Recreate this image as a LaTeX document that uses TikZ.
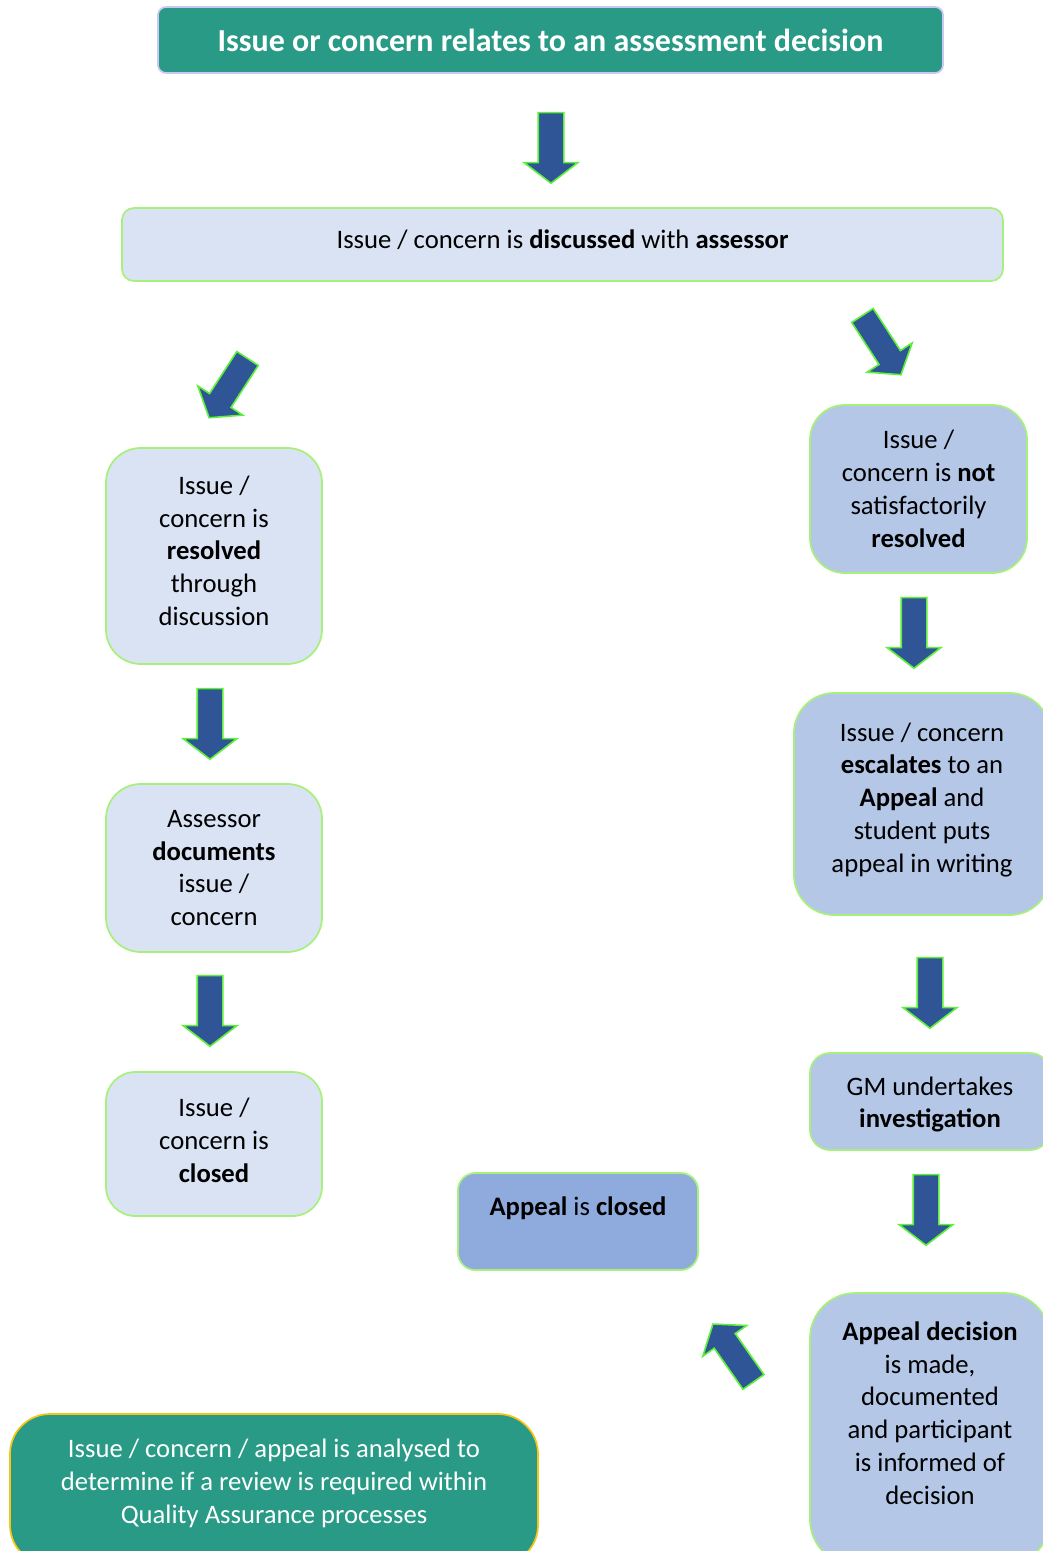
\documentclass[tikz,border=0pt]{standalone}
\usepackage{fontspec}
\setmainfont{Carlito}
\usetikzlibrary{shapes.arrows}

\definecolor{qateal}{HTML}{289A85}
\definecolor{paleblue}{HTML}{DAE3F3}
\definecolor{midblue}{HTML}{B4C7E7}
\definecolor{deepblue}{HTML}{8FAADC}
\definecolor{arrfill}{HTML}{2F5597}
\definecolor{arrline}{HTML}{5CF03A}
\definecolor{boxline}{HTML}{A8F07C}
\definecolor{headline}{HTML}{C8C8F2}
\definecolor{goldline}{HTML}{F5C518}

\begin{document}
\begin{tikzpicture}[x=0.75pt, y=-0.75pt,
    box/.style={draw=boxline, line width=1.3pt, fill=paleblue, align=center,
        font=\fontsize{20}{24.6}\selectfont, inner sep=0pt},
    tealbox/.style={box, fill=qateal, text=white},
    blkarrow/.style={single arrow, draw=arrline, fill=arrfill, line width=1.2pt,
        minimum height=53pt, inner xsep=0pt, inner ysep=9pt,
        single arrow head extend=10.5pt, single arrow tip angle=105}]

    \useasboundingbox (0,0) rectangle (1042,1551);

    % Top
    \node[tealbox, draw=headline, rounded corners=6pt, minimum width=785*0.75pt,
        minimum height=66*0.75pt, font=\fontsize{24}{28}\selectfont\bfseries]
        (start) at (550.5,40) {Issue or concern relates to an assessment decision};
    \node[box, rounded corners=9pt, minimum width=881*0.75pt, minimum height=73*0.75pt,
        text depth=8pt]
        (discuss) at (562.5,244.5) {Issue / concern is \textbf{discussed} with \textbf{assessor}};

    % Left column
    \node[box, rounded corners=26pt, minimum width=216*0.75pt, minimum height=216*0.75pt,
        text depth=8pt]
        (resolved) at (214,556) {Issue /\\concern is\\\textbf{resolved}\\through\\discussion};
    \node[box, rounded corners=26pt, minimum width=216*0.75pt, minimum height=168*0.75pt]
        (documents) at (214,868) {Assessor\\\textbf{documents}\\issue /\\concern};
    \node[box, rounded corners=22pt, minimum width=216*0.75pt, minimum height=144*0.75pt,
        text depth=6pt]
        (closed) at (214,1144) {Issue /\\concern is\\\textbf{closed}};

    % Right column
    \node[box, fill=midblue, rounded corners=26pt, minimum width=217*0.75pt, minimum height=168*0.75pt]
        (notresolved) at (918.5,489) {Issue /\\concern is \textbf{not}\\satisfactorily\\\textbf{resolved}};
    \node[box, fill=midblue, rounded corners=30pt, minimum width=256*0.75pt, minimum height=222*0.75pt,
        text depth=10pt]
        (escalates) at (922,804) {Issue / concern\\\textbf{escalates} to an\\\textbf{Appeal} and\\student puts\\appeal in writing};
    \node[box, fill=midblue, rounded corners=15pt, minimum width=240*0.75pt, minimum height=97*0.75pt,
        text height=43pt]
        (investigate) at (930,1101.5) {GM undertakes\\\textbf{investigation}};
    \node[box, fill=midblue, rounded corners=34pt, minimum width=240*0.75pt, minimum height=272*0.75pt,
        text depth=24pt]
        (decision) at (930,1429) {\textbf{Appeal decision}\\is made,\\documented\\and participant\\is informed of\\decision};

    % Bottom
    \node[box, fill=deepblue, rounded corners=13pt, minimum width=240*0.75pt, minimum height=97*0.75pt,
        text depth=23pt]
        (appealclosed) at (578,1221.5) {\textbf{Appeal} is \textbf{closed}};
    \node[tealbox, draw=goldline, rounded corners=30pt, minimum width=528*0.75pt, minimum height=151*0.75pt,
        text depth=12pt]
        (review) at (274,1489.5) {Issue / concern / appeal is analysed to\\determine if a review is required within\\Quality Assurance processes};

    % Block arrows
    \foreach \nm/\ax/\ay/\ang in {a1/551/143/-90, a2/231/384/-123, a3/879/341/-57,
        a4/210/719/-90, a5/210/1006/-90, a6/914/628/-90, a7/930/988/-90,
        a8/926/1205/-90, a9/736/1357/125}
        {
            \node[blkarrow, rotate=\ang] (\nm) at (\ax,\ay) {};
        }

\end{tikzpicture}
\end{document}
